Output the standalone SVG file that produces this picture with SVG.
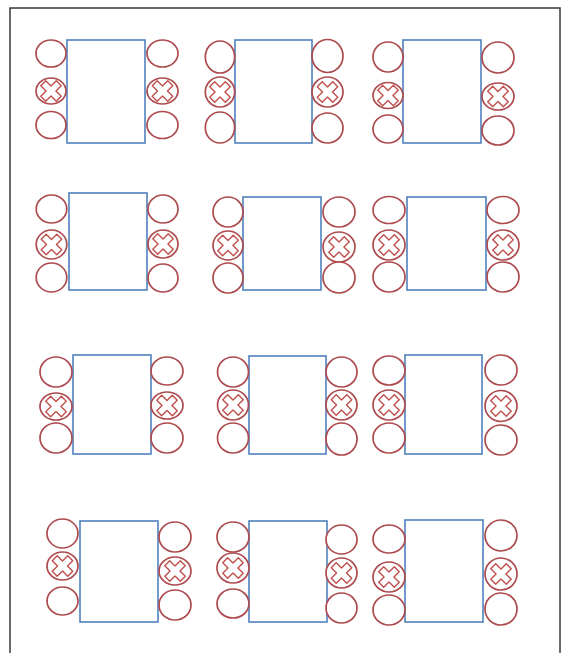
<svg xmlns="http://www.w3.org/2000/svg" xmlns:xlink="http://www.w3.org/1999/xlink" width="569" height="653" viewBox="0 0 569 653">
<style>
.frame{fill:none;stroke:#3a3a3a;stroke-width:1.5}
.tbl{fill:#ffffff;stroke:#4f81bd;stroke-width:1.6}
.seat{fill:#ffffff;stroke:#ac4a4e;stroke-width:1.7}
.x{fill:none;stroke:#c0504d;stroke-width:1.4;stroke-linejoin:round}
</style>
<defs>
<polygon id="xm" class="x" points="-3.5,-11 3.5,-11 3.5,-3.5 11,-3.5 11,3.5 3.5,3.5 3.5,11 -3.5,11 -3.5,3.5 -11,3.5 -11,-3.5 -3.5,-3.5" transform="rotate(45)"/>
</defs>
<rect width="569" height="653" fill="#ffffff"/>
<rect class="frame" x="10" y="8" width="550" height="660"/>

<g id="table1">
<rect class="tbl" x="67" y="40" width="78" height="103"/>
<ellipse class="seat" cx="51" cy="53.5" rx="15" ry="13.5"/>
<ellipse class="seat" cx="51" cy="91" rx="15" ry="13"/>
<use xlink:href="#xm" x="51" y="91"/>
<ellipse class="seat" cx="51" cy="125" rx="15" ry="13.5"/>
<ellipse class="seat" cx="162.5" cy="53.5" rx="15.5" ry="13.5"/>
<ellipse class="seat" cx="162.5" cy="91" rx="15.5" ry="13"/>
<use xlink:href="#xm" x="162.5" y="91"/>
<ellipse class="seat" cx="162.5" cy="125" rx="15.5" ry="13.5"/>
</g>

<g id="table2">
<rect class="tbl" x="235" y="40" width="77" height="103"/>
<ellipse class="seat" cx="220" cy="57" rx="14.7" ry="16"/>
<ellipse class="seat" cx="220" cy="92" rx="14.7" ry="15"/>
<use xlink:href="#xm" x="220" y="92"/>
<ellipse class="seat" cx="220" cy="127.5" rx="14.7" ry="15.5"/>
<ellipse class="seat" cx="327.5" cy="56" rx="15.5" ry="16.5"/>
<ellipse class="seat" cx="327.5" cy="92" rx="15.5" ry="15"/>
<use xlink:href="#xm" x="327.5" y="92"/>
<ellipse class="seat" cx="327.5" cy="128" rx="15.5" ry="15"/>
</g>

<g id="table3">
<rect class="tbl" x="403" y="40" width="78" height="103"/>
<ellipse class="seat" cx="388" cy="57" rx="15" ry="15"/>
<ellipse class="seat" cx="388" cy="95.5" rx="15" ry="13"/>
<use xlink:href="#xm" x="388" y="95.5"/>
<ellipse class="seat" cx="388" cy="129" rx="15" ry="14"/>
<ellipse class="seat" cx="498" cy="57.5" rx="16" ry="15.5"/>
<ellipse class="seat" cx="498" cy="96.5" rx="16" ry="13.5"/>
<use xlink:href="#xm" x="498" y="96.5"/>
<ellipse class="seat" cx="498" cy="130.5" rx="16" ry="14.5"/>
</g>

<g id="table4">
<rect class="tbl" x="69" y="193" width="78" height="97"/>
<ellipse class="seat" cx="51.5" cy="209" rx="15.3" ry="14"/>
<ellipse class="seat" cx="51.5" cy="244.5" rx="15.3" ry="14.5"/>
<use xlink:href="#xm" x="51.5" y="244.5"/>
<ellipse class="seat" cx="51.5" cy="277.5" rx="15.3" ry="14.5"/>
<ellipse class="seat" cx="163" cy="209" rx="15" ry="14"/>
<ellipse class="seat" cx="163" cy="244" rx="15" ry="14"/>
<use xlink:href="#xm" x="163" y="244"/>
<ellipse class="seat" cx="163" cy="278" rx="15" ry="14"/>
</g>

<g id="table5">
<rect class="tbl" x="243" y="197" width="78" height="93"/>
<ellipse class="seat" cx="228" cy="212" rx="15" ry="15"/>
<ellipse class="seat" cx="228" cy="245.5" rx="15" ry="14.5"/>
<use xlink:href="#xm" x="228" y="245.5"/>
<ellipse class="seat" cx="228" cy="278" rx="15" ry="15"/>
<ellipse class="seat" cx="339" cy="212" rx="16" ry="15"/>
<ellipse class="seat" cx="339" cy="247" rx="16" ry="15"/>
<use xlink:href="#xm" x="339" y="247"/>
<ellipse class="seat" cx="339" cy="277.5" rx="16" ry="15.5"/>
</g>

<g id="table6">
<rect class="tbl" x="407" y="197" width="79" height="93"/>
<ellipse class="seat" cx="389" cy="210" rx="16" ry="13.5"/>
<ellipse class="seat" cx="389" cy="245" rx="16" ry="15"/>
<use xlink:href="#xm" x="389" y="245"/>
<ellipse class="seat" cx="389" cy="277" rx="16" ry="15"/>
<ellipse class="seat" cx="503" cy="210" rx="16" ry="13.5"/>
<ellipse class="seat" cx="503" cy="245" rx="16" ry="15"/>
<use xlink:href="#xm" x="503" y="245"/>
<ellipse class="seat" cx="503" cy="277" rx="16" ry="15"/>
</g>

<g id="table7">
<rect class="tbl" x="73" y="355" width="78" height="99"/>
<ellipse class="seat" cx="56" cy="372" rx="16" ry="15"/>
<ellipse class="seat" cx="56" cy="406.5" rx="16" ry="13.5"/>
<use xlink:href="#xm" x="56" y="406.5"/>
<ellipse class="seat" cx="56" cy="438" rx="16" ry="15"/>
<ellipse class="seat" cx="167" cy="371" rx="16" ry="14"/>
<ellipse class="seat" cx="167" cy="405.5" rx="16" ry="13.5"/>
<use xlink:href="#xm" x="167" y="405.5"/>
<ellipse class="seat" cx="167" cy="438" rx="16" ry="15"/>
</g>

<g id="table8">
<rect class="tbl" x="249" y="356" width="77" height="98"/>
<ellipse class="seat" cx="233" cy="372" rx="15.5" ry="15"/>
<ellipse class="seat" cx="233" cy="405" rx="15.5" ry="15"/>
<use xlink:href="#xm" x="233" y="405"/>
<ellipse class="seat" cx="233" cy="438" rx="15.5" ry="15"/>
<ellipse class="seat" cx="341.5" cy="372" rx="15.5" ry="15"/>
<ellipse class="seat" cx="341.5" cy="405" rx="15.5" ry="15"/>
<use xlink:href="#xm" x="341.5" y="405"/>
<ellipse class="seat" cx="341.5" cy="439" rx="15.5" ry="16"/>
</g>

<g id="table9">
<rect class="tbl" x="405" y="355" width="77" height="99"/>
<ellipse class="seat" cx="389" cy="370.5" rx="16" ry="14.5"/>
<ellipse class="seat" cx="389" cy="405" rx="16" ry="15"/>
<use xlink:href="#xm" x="389" y="405"/>
<ellipse class="seat" cx="389" cy="438" rx="16" ry="15"/>
<ellipse class="seat" cx="501" cy="370" rx="16" ry="15"/>
<ellipse class="seat" cx="501" cy="406" rx="16" ry="15.5"/>
<use xlink:href="#xm" x="501" y="406"/>
<ellipse class="seat" cx="501" cy="440" rx="16" ry="15"/>
</g>

<g id="table10">
<rect class="tbl" x="80" y="521" width="78" height="101"/>
<ellipse class="seat" cx="62.5" cy="533.5" rx="15.5" ry="14.5"/>
<ellipse class="seat" cx="62.5" cy="566" rx="15.5" ry="14"/>
<use xlink:href="#xm" x="62.5" y="566"/>
<ellipse class="seat" cx="62.5" cy="601" rx="15.5" ry="14"/>
<ellipse class="seat" cx="175" cy="537" rx="16" ry="15"/>
<ellipse class="seat" cx="175" cy="571" rx="16" ry="14"/>
<use xlink:href="#xm" x="175" y="571"/>
<ellipse class="seat" cx="175" cy="605" rx="16" ry="15"/>
</g>

<g id="table11">
<rect class="tbl" x="249" y="521" width="78" height="101"/>
<ellipse class="seat" cx="233" cy="537" rx="16" ry="15"/>
<ellipse class="seat" cx="233" cy="568" rx="16" ry="15"/>
<use xlink:href="#xm" x="233" y="568"/>
<ellipse class="seat" cx="233" cy="603.5" rx="16" ry="14.5"/>
<ellipse class="seat" cx="341.5" cy="539.5" rx="15.5" ry="14.5"/>
<ellipse class="seat" cx="341.5" cy="573" rx="15.5" ry="15"/>
<use xlink:href="#xm" x="341.5" y="573"/>
<ellipse class="seat" cx="341.5" cy="608" rx="15.5" ry="15"/>
</g>

<g id="table12">
<rect class="tbl" x="405" y="520" width="78" height="102"/>
<ellipse class="seat" cx="389" cy="539" rx="16" ry="14"/>
<ellipse class="seat" cx="389" cy="577" rx="16" ry="15"/>
<use xlink:href="#xm" x="389" y="577"/>
<ellipse class="seat" cx="389" cy="610" rx="16" ry="15"/>
<ellipse class="seat" cx="501" cy="535.5" rx="16" ry="15.5"/>
<ellipse class="seat" cx="501" cy="574" rx="16" ry="16"/>
<use xlink:href="#xm" x="501" y="574"/>
<ellipse class="seat" cx="501" cy="609" rx="16" ry="16"/>
</g>
</svg>
